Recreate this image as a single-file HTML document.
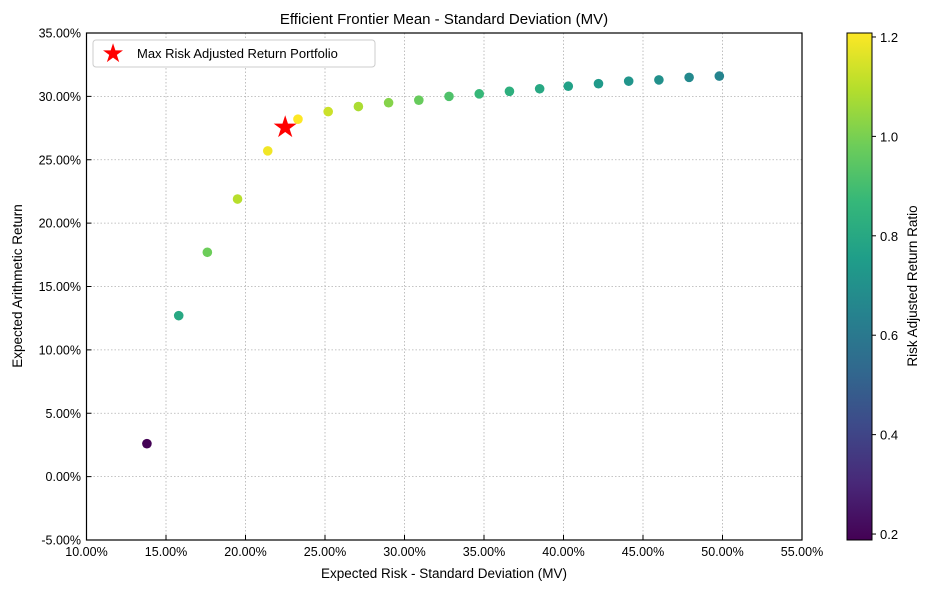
<!DOCTYPE html>
<html><head><meta charset="utf-8"><style>
body{margin:0;background:#fff;font-family:"Liberation Sans","Segoe UI",sans-serif}
svg text{font-family:"Liberation Sans",sans-serif;fill:#000}
</style></head><body>
<svg id="chart" width="933" height="585">
<defs><linearGradient id="vir" x1="0" y1="1" x2="0" y2="0"></linearGradient></defs>
<text x="444" y="24" text-anchor="middle" font-size="15">Efficient Frontier Mean - Standard Deviation (MV)</text>
<g id="grid"></g><g id="pts"></g>
<rect x="86.5" y="33" width="715.5" height="507" fill="none" stroke="#000" stroke-width="1.2"/>
<g id="ticks"></g>
<text x="444" y="578" text-anchor="middle" font-size="13.5">Expected Risk - Standard Deviation (MV)</text>
<text transform="translate(22,286) rotate(-90)" text-anchor="middle" font-size="13.5">Expected Arithmetic Return</text>
<g>
<rect x="93" y="40" width="282" height="27" rx="3" fill="#fff" stroke="#ccc"/>
<text x="113" y="62" text-anchor="middle" font-size="26" style="fill:red">★</text>
<text x="137" y="58" font-size="13">Max Risk Adjusted Return Portfolio</text>
</g>
<rect x="847" y="33" width="25" height="507" fill="url(#vir)" stroke="#000"/>
<g id="cb"></g>
<text transform="translate(917,286) rotate(-90)" text-anchor="middle" font-size="13.5">Risk Adjusted Return Ratio</text>
</svg>
<script>
const risk=[13.8,15.8,17.6,19.5,21.4,23.3,25.2,27.1,29.0,30.9,32.8,34.7,36.6,38.5,40.3,42.2,44.1,46.0,47.9,49.8];
const ret=[2.6,12.7,17.7,21.9,25.7,28.2,28.8,29.2,29.5,29.7,30.0,30.2,30.4,30.6,30.8,31.0,31.2,31.3,31.5,31.6];
const ratio=[0.19,0.80,0.98,1.10,1.19,1.21,1.13,1.08,1.02,0.97,0.92,0.87,0.83,0.80,0.77,0.74,0.72,0.70,0.67,0.65];
const starPt=[22.5,27.6];
const xTicks=[10,15,20,25,30,35,40,45,50,55];
const yTicks=[-5,0,5,10,15,20,25,30,35];
const cbTicks=[0.2,0.4,0.6,0.8,1.0,1.2];
const NS='http://www.w3.org/2000/svg';
const X=v=>86.5+(v-10)/45*715.5, Y=v=>540-(v+5)/40*507;
const cMin=0.188,cMax=1.208, C=v=>540-(v-cMin)/(cMax-cMin)*507;
const vir=[[68,1,84],[72,40,120],[62,73,137],[49,104,142],[38,130,142],[31,158,137],[53,183,121],[109,205,89],[180,222,44],[253,231,37]];
function col(v){let t=Math.max(0,Math.min(1,(v-cMin)/(cMax-cMin)))*9,i=Math.min(8,Math.floor(t)),f=t-i;const a=vir[i],b=vir[i+1];return `rgb(${a.map((c,k)=>Math.round(c+(b[k]-c)*f)).join(',')})`;}
function mk(tag,at,p){const e=document.createElementNS(NS,tag);for(const k in at)e.setAttribute(k,at[k]);p.appendChild(e);return e;}
const g=document.getElementById('grid'),tk=document.getElementById('ticks'),pts=document.getElementById('pts'),cb=document.getElementById('cb');
const grad=document.getElementById('vir');
vir.forEach((c,i)=>mk('stop',{offset:i/9,'stop-color':`rgb(${c})`},grad));
xTicks.forEach(v=>{const x=X(v);
const l=mk('line',{x1:x,x2:x,y1:33,y2:540,stroke:'#b0b0b0','stroke-dasharray':'1.5,2','stroke-width':0.8},g);


const t=mk('line',{x1:x,x2:x,y1:540,y2:535,stroke:'#000'},tk);


const s=mk('text',{x:x,y:556,'text-anchor':'middle','font-size':12.5},tk);s.textContent=v.toFixed(2)+'%';

});
yTicks.forEach(v=>{const y=Y(v);
const l=mk('line',{x1:86.5,x2:802,y1:y,y2:y,stroke:'#b0b0b0','stroke-dasharray':'1.5,2','stroke-width':0.8},g);


const t=mk('line',{x1:86.5,x2:91.5,y1:y,y2:y,stroke:'#000'},tk);


const s=mk('text',{x:81,y:y+4.5,'text-anchor':'end','font-size':12.5},tk);s.textContent=v.toFixed(2)+'%';

});
risk.forEach((r,i)=>{const c=mk('circle',{cx:X(r),cy:Y(ret[i]),r:4.8,fill:col(ratio[i])},pts);

});
const st=mk('text',{x:X(starPt[0]),y:Y(starPt[1])+10,'text-anchor':'middle','font-size':30,style:'fill:red'},pts);st.textContent='★';


cbTicks.forEach(v=>{const y=C(v);
const t=mk('line',{x1:872,x2:876,y1:y,y2:y,stroke:'#000'},cb);


const s=mk('text',{x:880,y:y+5,'font-size':13},cb);s.textContent=v.toFixed(1);

});
</script>
</body></html>
